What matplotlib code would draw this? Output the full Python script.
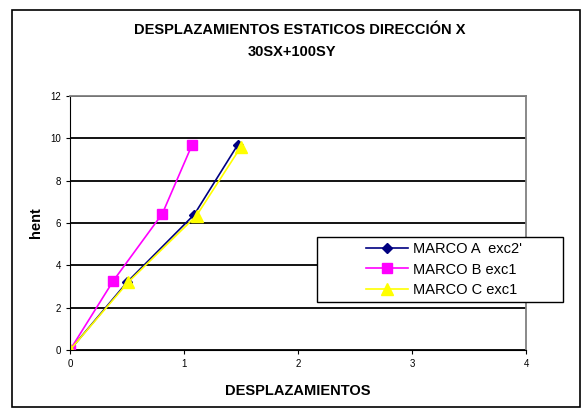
import matplotlib.pyplot as plt
from matplotlib.patches import Rectangle

plt.rcParams['font.family'] = ['Liberation Sans', 'DejaVu Sans']

marco_a_x = [0.0, 0.50, 1.09, 1.47]
marco_a_y = [0.0, 3.20, 6.40, 9.68]
marco_b_x = [0.0, 0.38, 0.81, 1.07]
marco_b_y = [0.0, 3.27, 6.44, 9.68]
marco_c_x = [0.0, 0.51, 1.11, 1.50]
marco_c_y = [0.0, 3.20, 6.35, 9.60]

fig = plt.figure(figsize=(5.84, 4.12), dpi=100)
ax = fig.add_axes([70/584, 1 - 350/412, 456/584, 254/412])

# marco exterior
fig.patches.append(Rectangle((12/584, 5/412), 568/584, 397/412, transform=fig.transFigure,
                             fill=False, edgecolor='black', linewidth=1.2))

ax.plot(marco_a_x, marco_a_y, color='#000080', marker='D', markersize=5, lw=1.2, label="MARCO A  exc2'")
ax.plot(marco_b_x, marco_b_y, color='#FF00FF', marker='s', markersize=7, lw=1.2, label='MARCO B exc1')
ax.plot(marco_c_x, marco_c_y, color='#FFFF00', marker='^', markersize=9, lw=1.2, label='MARCO C exc1')

ax.set_xlim(0, 4)
ax.set_ylim(0, 12)
ax.set_xticks([0, 1, 2, 3, 4])
ax.set_yticks([0, 2, 4, 6, 8, 10, 12])
ax.yaxis.grid(True, color='black', linewidth=1.3)
ax.set_axisbelow(True)
ax.tick_params(labelsize=7, direction='out', length=3)
for s in ['top', 'right']:
    ax.spines[s].set_color('gray')
    ax.spines[s].set_linewidth(1.3)
for s in ['left', 'bottom']:
    ax.spines[s].set_color('black')

ax.set_xlabel('DESPLAZAMIENTOS', fontsize=10.5, fontweight='bold', labelpad=11)
ax.set_ylabel('hent', fontsize=10.5, fontweight='bold', labelpad=5)

fig.text(300/584, 1 - 30/412, 'DESPLAZAMIENTOS ESTATICOS DIRECCIÓN X', ha='center', va='center',
         fontsize=10.5, fontweight='bold')
fig.text(292/584, 1 - 52/412, '30SX+100SY', ha='center', va='center', fontsize=10.5, fontweight='bold')

# recuadro de la leyenda
fig.patches.append(Rectangle((317/584, 1 - 302/412), 246/584, 65/412, transform=fig.transFigure,
                             facecolor='white', edgecolor='black', linewidth=1.0, zorder=5))
handles, labels = ax.get_legend_handles_labels()
leg = fig.legend(handles, labels, loc='center left', bbox_to_anchor=(366/584, 1 - 269.5/412),
                 bbox_transform=fig.transFigure, fontsize=10.5, frameon=False,
                 borderpad=0, labelspacing=0.45, handlelength=2.9, handletextpad=0.3,
                 borderaxespad=0)
leg.set_zorder(6)

fig.savefig('out.png', dpi=100)
